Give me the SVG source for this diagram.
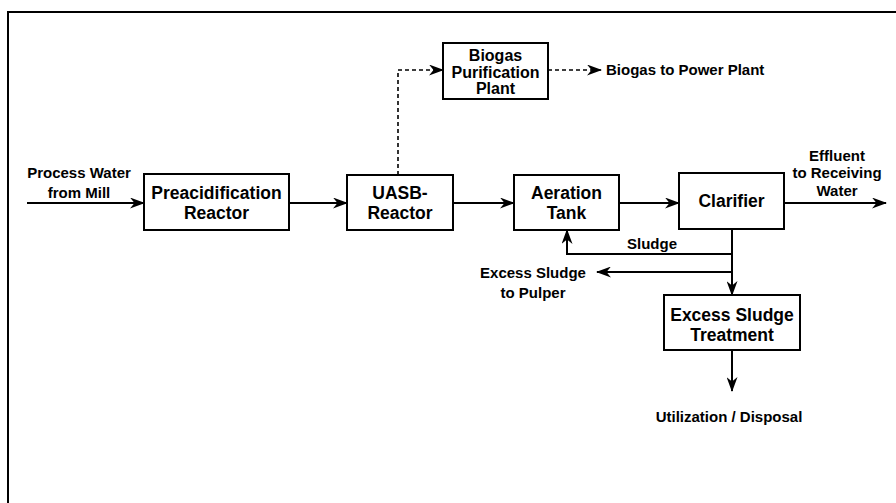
<svg xmlns="http://www.w3.org/2000/svg" width="896" height="503" viewBox="0 0 896 503">
<style>
.box{fill:#fff;stroke:#000;stroke-width:2}
.ln{fill:none;stroke:#000;stroke-width:2}
.dash{fill:none;stroke:#000;stroke-width:1.6;stroke-dasharray:4 3}
.t{font-family:"Liberation Sans",Arial,sans-serif;font-weight:bold;font-size:17.5px;text-anchor:middle;fill:#000}
.b{font-family:"Liberation Sans",Arial,sans-serif;font-weight:bold;font-size:16px;text-anchor:middle;fill:#000}
.s{font-family:"Liberation Sans",Arial,sans-serif;font-weight:bold;font-size:15px;text-anchor:middle;fill:#000}
</style>
<defs>
<marker id="ah" viewBox="0 0 15 11" refX="14" refY="5.5" markerWidth="15" markerHeight="11" markerUnits="userSpaceOnUse" orient="auto">
<path d="M0,0 L15,5.5 L0,11 L4.5,5.5 z" fill="#000"/>
</marker>
</defs>
<rect x="0" y="0" width="896" height="503" fill="#fff"/>
<rect x="8" y="12" width="900" height="500" fill="none" stroke="#000" stroke-width="2"/>

<g id="connectors">
<line class="ln" x1="27" y1="203" x2="144" y2="203" marker-end="url(#ah)"/>
<line class="ln" x1="289" y1="203" x2="347" y2="203" marker-end="url(#ah)"/>
<line class="ln" x1="453" y1="203" x2="514" y2="203" marker-end="url(#ah)"/>
<line class="ln" x1="619" y1="203" x2="679" y2="203" marker-end="url(#ah)"/>
<line class="ln" x1="784" y1="203" x2="886" y2="203" marker-end="url(#ah)"/>
<polyline class="dash" points="398,175 398,70 443,70" marker-end="url(#ah)"/>
<line class="dash" x1="548" y1="70" x2="601" y2="70" marker-end="url(#ah)"/>
<line class="ln" x1="732" y1="229" x2="732" y2="295" marker-end="url(#ah)"/>
<polyline class="ln" points="732,254 567,254 567,230" marker-end="url(#ah)"/>
<line class="ln" x1="732" y1="272" x2="597" y2="272" marker-end="url(#ah)"/>
<line class="ln" x1="732" y1="350" x2="732" y2="391" marker-end="url(#ah)"/>
</g>

<g id="preacid">
<rect class="box" x="144" y="174" width="145" height="56"/>
<text class="t" x="216.5" y="199">Preacidification</text>
<text class="t" x="216.5" y="219">Reactor</text>
</g>
<g id="uasb">
<rect class="box" x="347" y="175" width="106" height="55"/>
<text class="t" x="400" y="199">UASB-</text>
<text class="t" x="400" y="219">Reactor</text>
</g>
<g id="aeration">
<rect class="box" x="514" y="175" width="105" height="55"/>
<text class="t" x="566.5" y="199">Aeration</text>
<text class="t" x="566.5" y="219">Tank</text>
</g>
<g id="clarifier">
<rect class="box" x="679" y="173" width="105" height="56"/>
<text class="t" x="731.5" y="207">Clarifier</text>
</g>
<g id="biogas">
<rect class="box" x="443" y="43" width="105" height="56"/>
<text class="b" x="495.5" y="61">Biogas</text>
<text class="b" x="495.5" y="77.5">Purification</text>
<text class="b" x="495.5" y="94">Plant</text>
</g>
<g id="excess">
<rect class="box" x="664" y="295" width="136" height="55"/>
<text class="t" x="732" y="321">Excess Sludge</text>
<text class="t" x="732" y="341">Treatment</text>
</g>

<g id="labels">
<text class="s" x="79" y="178">Process Water</text>
<text class="s" x="79" y="198">from Mill</text>
<text class="s" x="606" y="75" style="text-anchor:start">Biogas to Power Plant</text>
<text class="s" x="837" y="161">Effluent</text>
<text class="s" x="837" y="178">to Receiving</text>
<text class="s" x="837" y="196">Water</text>
<text class="s" x="652" y="249">Sludge</text>
<text class="s" x="533" y="278">Excess Sludge</text>
<text class="s" x="533" y="298">to Pulper</text>
<text class="s" x="729" y="422">Utilization / Disposal</text>
</g>
</svg>
